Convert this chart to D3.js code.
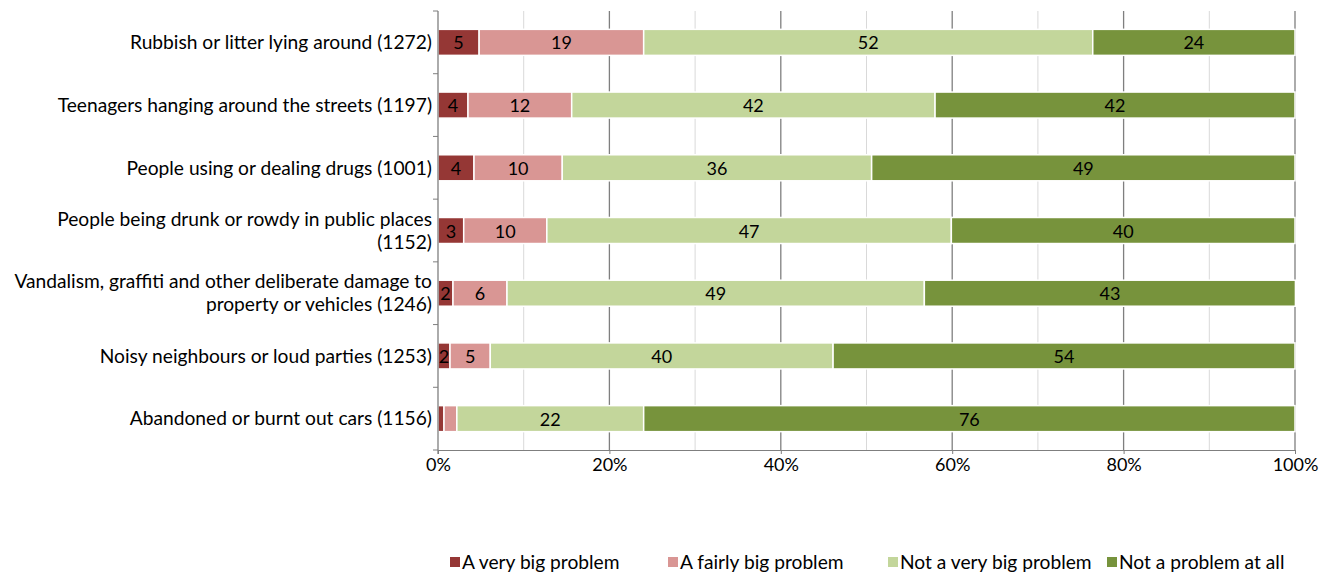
<!DOCTYPE html>
<html><head><meta charset="utf-8">
<script src="https://cdn.jsdelivr.net/npm/d3@7"></script>
<style>body{margin:0;background:#fff}svg{display:block}text{font-family:"Lato","Open Sans",sans-serif;fill:#000}</style>
</head><body><svg id="c" width="1333" height="574"></svg>
<script>
const categories = [
  ["Rubbish or litter lying around (1272)"],
  ["Teenagers hanging around the streets (1197)"],
  ["People using or dealing drugs (1001)"],
  ["People being drunk or rowdy in public places", "(1152)"],
  ["Vandalism, graffiti and other deliberate damage to", "property or vehicles (1246)"],
  ["Noisy neighbours or loud parties (1253)"],
  ["Abandoned or burnt out cars (1156)"]
];
const seriesNames = ["A very big problem", "A fairly big problem", "Not a very big problem", "Not a problem at all"];
const seriesColors = ["#953735", "#D99694", "#C3D69B", "#77933C"];
const veryBig   = [4.8, 3.5, 4.2, 3.0, 1.75, 1.4, 0.7];
const fairlyBig = [19.2, 12.1, 10.3, 9.7, 6.3, 4.7, 1.5];
const notVeryBig= [52.4, 42.4, 36.1, 47.2, 48.7, 40.0, 21.8];
const notAtAll  = [23.6, 42.0, 49.4, 40.1, 43.3, 53.9, 76.0];
const veryBigLabels   = ["5","4","4","3","2","2",""];
const fairlyBigLabels = ["19","12","10","10","6","5",""];
const notVeryBigLabels= ["52","42","36","47","49","40","22"];
const notAtAllLabels  = ["24","42","49","40","43","54","76"];
const xTicks = [0,20,40,60,80,100];

const series = [veryBig, fairlyBig, notVeryBig, notAtAll];
const labels = [veryBigLabels, fairlyBigLabels, notVeryBigLabels, notAtAllLabels];
const FS = 19.2, FN = 18;

const svg = d3.select("#c");
const L = 438, R = 1295, T = 11, B = 450;
const x = d3.scaleLinear().domain([0,100]).range([L,R]);
const y = d3.scaleBand().domain(d3.range(categories.length)).range([T,B]).paddingInner(0.585).paddingOuter(0.2925);

// gridlines
const g = svg.append("g");
g.selectAll("line.minor").data(d3.range(10,100,20)).join("line")
  .attr("x1",d=>x(d)).attr("x2",d=>x(d)).attr("y1",T).attr("y2",B)
  .attr("stroke","#d9d9d9").attr("stroke-width",1);
g.selectAll("line.major").data([20,40,60,80,100]).join("line")
  .attr("x1",d=>x(d)).attr("x2",d=>x(d)).attr("y1",T).attr("y2",B)
  .attr("stroke","#7f7f7f").attr("stroke-width",1.3);

// bars
const rows = categories.map((c,i)=>{
  let acc=0;
  return series.map((s,k)=>{const o={i,k,x0:acc,x1:acc+s[i],label:labels[k][i]}; acc+=s[i]; return o;});
});
const segs = rows.flat();
svg.append("g").selectAll("rect").data(segs).join("rect")
  .attr("x",d=>x(d.x0)).attr("width",d=>x(d.x1)-x(d.x0))
  .attr("y",d=>y(d.i)).attr("height",y.bandwidth())
  .attr("fill",d=>seriesColors[d.k]).attr("stroke","#fff").attr("stroke-width",1.5);
svg.append("g").selectAll("text").data(segs.filter(d=>d.label)).join("text")
  .attr("x",d=>(x(d.x0)+x(d.x1))/2).attr("y",d=>y(d.i)+y.bandwidth()/2)
  .attr("text-anchor","middle").attr("dominant-baseline","central")
  .attr("font-size",FN).text(d=>d.label);

// y axis
const yb = d3.scaleLinear().domain([0,categories.length]).range([T,B]);
svg.append("line").attr("x1",L).attr("x2",L).attr("y1",T).attr("y2",B+4).attr("stroke","#7f7f7f").attr("stroke-width",1.3);
svg.append("g").selectAll("line").data(d3.range(0,categories.length+1)).join("line")
  .attr("x1",L-5).attr("x2",L).attr("y1",d=>yb(d)).attr("y2",d=>yb(d)).attr("stroke","#7f7f7f");
// x axis
const xa = svg.append("g").attr("transform",`translate(0,${B})`)
  .call(d3.axisBottom(x).tickValues(xTicks).tickFormat(d=>d+"%").tickSize(4).tickPadding(4));
xa.select(".domain").attr("stroke","#7f7f7f");
xa.selectAll(".tick line").attr("stroke","#7f7f7f");
xa.selectAll("text").attr("font-size",FN).attr("font-family","Lato, 'Open Sans', sans-serif").attr("fill","#000");

// category labels
const cl = svg.append("g").selectAll("text").data(categories).join("text")
  .attr("text-anchor","end").attr("font-size",FS);
cl.each(function(lines,i){
  const cy = y(i)+y.bandwidth()/2;
  const lh = 23;
  d3.select(this).selectAll("tspan").data(lines).join("tspan")
    .attr("x",432).attr("y",(d,j)=>cy + (j-(lines.length-1)/2)*lh).attr("dy","0.35em").text(d=>d);
});

// legend
const legX = [450, 668, 888, 1107];
const lg = svg.append("g").selectAll("g").data(seriesNames).join("g")
  .attr("transform",(d,i)=>`translate(${legX[i]},562)`);
lg.append("rect").attr("x",0).attr("y",-5).attr("width",10).attr("height",10).attr("fill",(d,i)=>seriesColors[i]);
lg.append("text").attr("x",12).attr("y",0).attr("dy","0.35em").attr("font-size",FS).text(d=>d);
</script></body></html>
